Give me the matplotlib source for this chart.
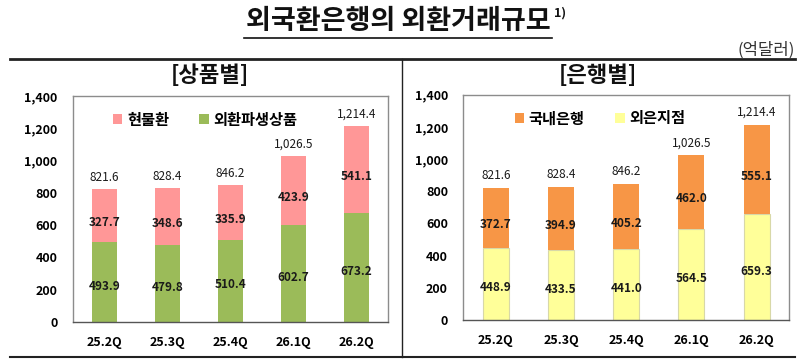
import matplotlib
matplotlib.use('Agg')
import matplotlib.pyplot as plt
from matplotlib.lines import Line2D
from matplotlib.patches import Patch

plt.rcParams['font.family'] = ['Noto Sans CJK KR', 'DejaVu Sans']

categories = ['25.2Q', '25.3Q', '25.4Q', '26.1Q', '26.2Q']
totals = [821.6, 828.4, 846.2, 1026.5, 1214.4]

# by product
derivatives = [493.9, 479.8, 510.4, 602.7, 673.2]
spot = [327.7, 348.6, 335.9, 423.9, 541.1]

# by bank
foreign_branches = [448.9, 433.5, 441.0, 564.5, 659.3]
domestic_banks = [372.7, 394.9, 405.2, 462.0, 555.1]

yticks = [0, 200, 400, 600, 800, 1000, 1200, 1400]


def draw_panel(ax, lower, upper, lower_name, upper_name, lower_style, upper_style):
    x = range(len(categories))
    ax.bar(x, lower, width=0.4, **lower_style)
    ax.bar(x, upper, width=0.4, bottom=lower, **upper_style)

    for i in x:
        ax.annotate(f'{lower[i]:.1f}', (i, lower[i] / 2), xytext=(0, -3),
                    textcoords='offset points', ha='center', va='center',
                    fontsize=8.5, fontweight='bold', color='#1a1a1a')
        ax.annotate(f'{upper[i]:.1f}', (i, lower[i] + upper[i] / 2), xytext=(0, -5),
                    textcoords='offset points', ha='center', va='center',
                    fontsize=8.5, fontweight='bold', color='#1a1a1a')
        ax.annotate(f'{totals[i]:,.1f}', (i, totals[i]), xytext=(0, 4),
                    textcoords='offset points', ha='center', va='bottom',
                    fontsize=8.5, color='#1a1a1a')

    ax.set_xlim(-0.5, len(categories) - 0.5)
    ax.set_ylim(0, 1400)
    ax.set_yticks(yticks)
    ax.set_yticklabels([f'{v:,}' for v in yticks], fontsize=9, fontweight='bold')
    ax.set_xticks(list(x))
    ax.set_xticklabels(categories, fontsize=9, fontweight='bold')
    ax.tick_params(axis='y', length=0, pad=11)
    ax.tick_params(axis='x', length=0, pad=10)
    for side in ['top', 'right', 'left']:
        ax.spines[side].set_color('#8c8c8c')
        ax.spines[side].set_linewidth(1)
    ax.spines['bottom'].set_color('#555555')
    ax.spines['bottom'].set_linewidth(1)

    handles = [Patch(facecolor=upper_style['color'], edgecolor='none', label=upper_name),
               Patch(facecolor=lower_style['color'], edgecolor='none', label=lower_name)]
    ax.legend(handles=handles, loc='center', bbox_to_anchor=(0.42, 0.895), ncol=2,
              frameon=False, handlelength=0.6, handleheight=0.6, handletextpad=0.3,
              columnspacing=2.0, prop={'size': 11, 'weight': 'bold'})


fig = plt.figure(figsize=(8, 3.59), dpi=100)

ax1 = fig.add_axes([0.091, 0.103, 0.394, 0.630])
draw_panel(ax1, derivatives, spot, '외환파생상품', '현물환',
           {'color': '#9BBB59'}, {'color': '#FF9797'})

ax2 = fig.add_axes([0.579, 0.109, 0.4075, 0.627])
draw_panel(ax2, foreign_branches, domestic_banks, '외은지점', '국내은행',
           {'color': '#FFFF99', 'edgecolor': '#d8d8a8', 'linewidth': 0.8},
           {'color': '#F79646'})

# title and table frame
fig.text(0.498, 1 - 21 / 359, '외국환은행의 외환거래규모', ha='center', va='center',
         fontsize=19.5, fontweight='bold', color='#111111')
fig.text(0.692, 1 - 13 / 359, '1)', ha='left', va='center', fontsize=9,
         fontweight='bold', color='#111111')
fig.add_artist(Line2D([0.305, 0.69], [1 - 38 / 359] * 2, color='#111111', lw=1.2))
fig.text(0.994, 1 - 50 / 359, '(억달러)', ha='right', va='center', fontsize=12,
         color='#333333')

fig.add_artist(Line2D([0.012, 0.994], [1 - 59 / 359] * 2, color='#222222', lw=2))
fig.add_artist(Line2D([0.012, 0.994], [1 - 357 / 359] * 2, color='#222222', lw=1.5))
fig.add_artist(Line2D([0.5025, 0.5025], [1 - 59 / 359, 1 - 357 / 359], color='#222222', lw=1))

fig.text(0.262, 1 - 76 / 359, '[상품별]', ha='center', va='center', fontsize=16,
         fontweight='bold', color='#111111')
fig.text(0.747, 1 - 76 / 359, '[은행별]', ha='center', va='center', fontsize=16,
         fontweight='bold', color='#111111')

fig.savefig('out.png', dpi=100)
